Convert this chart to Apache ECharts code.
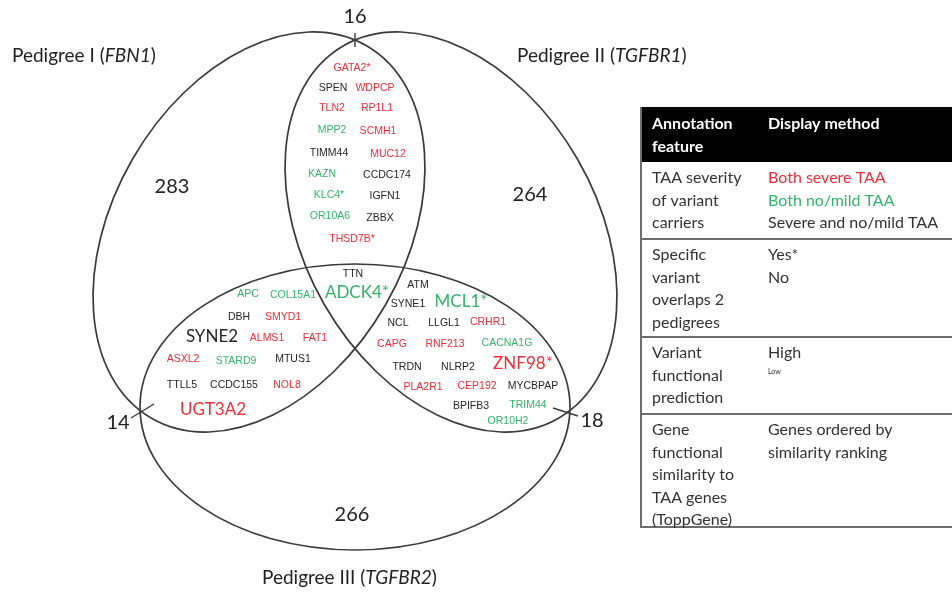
<html>
<head>
    <meta charset="utf-8">
    <script src="https://cdn.jsdelivr.net/npm/echarts@6/dist/echarts.min.js"></script>
</head>
<body style="margin:0;background:#fff">
<div id="main" style="width:952px;height:593px"></div>
<script>
    // Sets and counts
    var pedigreeNames = ['Pedigree I', 'Pedigree II', 'Pedigree III'];
    var pedigreeGenes = ['FBN1', 'TGFBR1', 'TGFBR2'];
    var uniqueCounts = [283, 264, 266];
    var pairCounts = [16, 14, 18]; // I&II, I&III, II&III

    // Genes shown in the overlaps (s = both severe, m = both no/mild, x = mixed; H/L = prediction)
    var geneNames = [
        'GATA2*', 'SPEN', 'WDPCP', 'TLN2', 'RP1L1', 'MPP2', 'SCMH1', 'TIMM44', 'MUC12', 'KAZN',
        'CCDC174', 'KLC4*', 'IGFN1', 'OR10A6', 'ZBBX', 'THSD7B*',
        'TTN', 'ADCK4*',
        'APC', 'COL15A1', 'DBH', 'SMYD1', 'SYNE2', 'ALMS1', 'FAT1', 'ASXL2', 'STARD9', 'MTUS1',
        'TTLL5', 'CCDC155', 'NOL8', 'UGT3A2',
        'ATM', 'SYNE1', 'MCL1*', 'NCL', 'LLGL1', 'CRHR1', 'CAPG', 'RNF213', 'CACNA1G', 'TRDN',
        'NLRP2', 'ZNF98*', 'PLA2R1', 'CEP192', 'MYCBPAP', 'BPIFB3', 'TRIM44', 'OR10H2'
    ];
    var geneX = [
        352, 333, 375, 332, 377, 332, 378, 329, 388, 322,
        387, 329, 385, 330, 380, 352,
        353, 357,
        248, 293, 239, 283, 212, 267, 315, 183, 236, 293,
        182, 234, 287, 213,
        418, 408, 461, 398, 444, 488, 392, 445, 507, 407,
        458, 523, 423, 477, 533, 471, 528, 508
    ];
    var geneY = [
        68, 88, 88, 108, 108, 130, 131, 153, 154, 174,
        175, 195, 196, 216, 218, 239,
        274, 293,
        294, 295, 317, 317, 337, 338, 338, 359, 361, 359,
        385, 385, 385, 410,
        285, 304, 302, 323, 323, 322, 344, 344, 343, 367,
        367, 364, 387, 386, 386, 406, 405, 421
    ];
    var geneSeverity = [
        's', 'x', 's', 's', 's', 'm', 's', 'x', 's', 'm',
        'x', 'm', 'x', 'm', 'x', 's',
        'x', 'm',
        'm', 'm', 'x', 's', 'x', 's', 's', 's', 'm', 'x',
        'x', 'x', 's', 's',
        'x', 'x', 'm', 'x', 'x', 's', 's', 's', 'm', 'x',
        'x', 's', 's', 's', 'x', 'x', 'm', 'm'
    ];
    var genePrediction = [
        'L', 'L', 'L', 'L', 'L', 'L', 'L', 'L', 'L', 'L',
        'L', 'L', 'L', 'L', 'L', 'L',
        'L', 'H',
        'L', 'L', 'L', 'L', 'H', 'L', 'L', 'L', 'L', 'L',
        'L', 'L', 'L', 'H',
        'L', 'L', 'H', 'L', 'L', 'L', 'L', 'L', 'L', 'L',
        'L', 'H', 'L', 'L', 'L', 'L', 'L', 'L'
    ];

    // Legend table
    var tableHeader = [['Annotation', 'feature'], ['Display method']];
    var tableFeatures = [
        ['TAA severity', 'of variant', 'carriers'],
        ['Specific', 'variant', 'overlaps 2', 'pedigrees'],
        ['Variant', 'functional', 'prediction'],
        ['Gene', 'functional', 'similarity to', 'TAA genes', '(ToppGene)']
    ];
    var tableMethods = [
        [['Both severe TAA', 's'], ['Both no/mild TAA', 'm'], ['Severe and no/mild TAA', 'x']],
        [['Yes*', 'x'], ['No', 'x']],
        [['High', 'H'], ['Low', 'L']],
        [['Genes ordered by', 'x'], ['similarity ranking', 'x']]
    ];

    var severityColor = {s: '#ec2f3b', m: '#36b36a', x: '#262626'};

    // layout (pixels): ellipse centre x, y, semi-axes, rotation in degrees
    var ellipses = [
        [259, 232, 215, 146, 60],
        [451, 232, 215, 146, -60],
        [355, 407, 215, 143, 0]
    ];
    var uniquePos = [[172, 187], [530, 195], [352, 515]];
    var pairPos = [[355, 17], [118, 423], [592, 421]];
    var pairTicks = [[[355, 33], [355, 47]], [[131, 418], [154, 404]], [[553, 408], [578, 416]]];
    var titlePos = [[12, 56], [517, 56], [262, 578]];

    var chart = echarts.init(document.getElementById('main'));

    var graphics = [];
    pedigreeNames.forEach(function (n, i) {
        graphics.push({
            type: 'text', x: titlePos[i][0], y: titlePos[i][1], silent: true,
            style: {
                text: '{n|' + n + ' (}{i|' + pedigreeGenes[i] + '}{n|)}',
                verticalAlign: 'middle',
                rich: {
                    n: {fontSize: 19, fontFamily: 'Lato', fill: '#222'},
                    i: {fontSize: 19, fontFamily: 'Lato', fontStyle: 'italic', fill: '#222'}
                }
            }
        });
    });

    // table
    var tLeft = 641, tRight = 960, col2 = 768;
    var rowTops = [162, 239, 337, 414], tBottom = 527, lh = 22.5;
    graphics.push({type: 'rect', shape: {x: tLeft, y: 107, width: tRight - tLeft, height: 55}, style: {fill: '#000'}, silent: true});
    tableHeader.forEach(function (lines, c) {
        lines.forEach(function (t, k) {
            graphics.push({
                type: 'text', x: c === 0 ? 652 : col2, y: 124 + k * 23, silent: true,
                style: {text: t, fill: '#fff', font: 'bold 16px Lato', verticalAlign: 'middle'}
            });
        });
    });
    rowTops.concat([tBottom]).forEach(function (y, r) {
        if (r === 0) return;
        graphics.push({type: 'line', shape: {x1: tLeft, y1: y, x2: tRight, y2: y}, style: {stroke: '#6e6e6e', lineWidth: 2}, silent: true});
    });
    graphics.push({type: 'line', shape: {x1: tLeft, y1: 107, x2: tLeft, y2: tBottom + 1}, style: {stroke: '#6e6e6e', lineWidth: 2}, silent: true});
    tableFeatures.forEach(function (lines, r) {
        lines.forEach(function (t, k) {
            graphics.push({
                type: 'text', x: 652, y: rowTops[r] + 16 + k * lh, silent: true,
                style: {text: t, fill: '#333', font: '16px Lato', verticalAlign: 'middle'}
            });
        });
        tableMethods[r].forEach(function (m, k) {
            var small = m[1] === 'L';
            graphics.push({
                type: 'text', x: col2, y: rowTops[r] + 16 + k * (small ? 19 : lh), silent: true,
                style: {
                    text: m[0], fill: m[1] === 's' || m[1] === 'm' ? severityColor[m[1]] : '#333',
                    font: (small ? 7 : 16) + 'px Lato', verticalAlign: 'middle'
                }
            });
        });
    });

    var option = {
        animation: false,
        grid: {left: 0, right: 0, top: 0, bottom: 0},
        xAxis: {type: 'value', min: 0, max: 952, show: false},
        yAxis: {type: 'value', min: 0, max: 593, inverse: true, show: false},
        graphic: graphics,
        series: [
            {
                type: 'custom', silent: true,
                data: ellipses,
                renderItem: function (params, api) {
                    var c = api.coord([api.value(0), api.value(1)]);
                    var s = api.size([api.value(2), api.value(3)]);
                    return {
                        type: 'ellipse', x: c[0], y: c[1],
                        rotation: api.value(4) * Math.PI / 180,
                        shape: {cx: 0, cy: 0, rx: Math.abs(s[0]), ry: Math.abs(s[1])},
                        style: {fill: 'none', stroke: '#3a3a3a', lineWidth: 1.7}
                    };
                }
            },
            {
                type: 'custom', silent: true,
                data: pairTicks.map(function (t) { return [t[0][0], t[0][1], t[1][0], t[1][1]]; }),
                renderItem: function (params, api) {
                    var a = api.coord([api.value(0), api.value(1)]);
                    var b = api.coord([api.value(2), api.value(3)]);
                    return {type: 'line', shape: {x1: a[0], y1: a[1], x2: b[0], y2: b[1]}, style: {stroke: '#3a3a3a', lineWidth: 1.4}};
                }
            },
            {
                type: 'custom', silent: true,
                data: uniquePos.concat(pairPos),
                renderItem: function (params, api) {
                    var p = api.coord([api.value(0), api.value(1)]);
                    var i = params.dataIndex;
                    var v = i < 3 ? uniqueCounts[i] : pairCounts[i - 3];
                    return {
                        type: 'text', x: p[0], y: p[1],
                        style: {text: String(v), fill: '#222', font: '20px Lato', align: 'center', verticalAlign: 'middle'}
                    };
                }
            },
            {
                type: 'custom', silent: true,
                data: geneX.map(function (x, i) { return [x, geneY[i]]; }),
                renderItem: function (params, api) {
                    var p = api.coord([api.value(0), api.value(1)]);
                    var i = params.dataIndex;
                    var big = genePrediction[i] === 'H';
                    return {
                        type: 'text', x: p[0], y: p[1],
                        style: {
                            text: geneNames[i], fill: severityColor[geneSeverity[i]],
                            font: big ? '17px Lato' : '10.5px "Liberation Sans"',
                            align: 'center', verticalAlign: 'middle'
                        }
                    };
                }
            }
        ]
    };
    chart.setOption(option);
</script>
</body>
</html>
